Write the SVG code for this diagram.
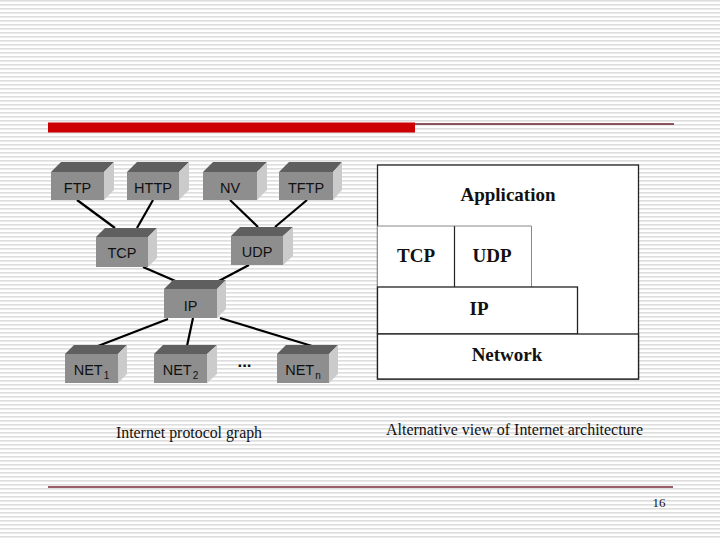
<svg xmlns="http://www.w3.org/2000/svg" width="720" height="540" viewBox="0 0 720 540">
<defs>
<pattern id="stripes" width="720" height="4" patternUnits="userSpaceOnUse">
<rect width="720" height="4" fill="#ffffff"/>
<rect y="0.2" width="720" height="1.3" fill="#d6d6d6"/>
</pattern>
<style>
.top{fill:#5f5f5f}
.front{fill:#8e8e8e}
.side{fill:#cbcbcb}
.lbl{font-family:"Liberation Sans",Arial,sans-serif;font-size:14.5px;fill:#111;text-anchor:middle}
.sub{font-size:10px}
.con line{stroke:#000;stroke-width:2.2}
.lay{font-family:"Liberation Serif","Times New Roman",serif;font-size:19px;font-weight:bold;fill:#111;text-anchor:middle}
.cap{font-family:"Liberation Serif","Times New Roman",serif;font-size:16px;fill:#111}
.frame{fill:#fff;stroke:#222;stroke-width:1.3}
</style>
</defs>
<rect width="720" height="540" fill="url(#stripes)"/>

<!-- title bar -->
<rect x="48" y="122.5" width="367" height="10" fill="#cc0000"/>
<line x1="415" y1="124" x2="674" y2="124" stroke="#6b1f2c" stroke-width="1.5"/>

<!-- connectors -->
<g id="connectors" class="con">
<line x1="77" y1="200" x2="115" y2="228"/>
<line x1="153" y1="200" x2="137" y2="228"/>
<line x1="230" y1="200" x2="258" y2="227"/>
<line x1="307" y1="200" x2="275" y2="227"/>
<line x1="143" y1="267" x2="180" y2="283"/>
<line x1="249" y1="265" x2="215" y2="283"/>
<line x1="168" y1="319" x2="98" y2="346"/>
<line x1="193" y1="318" x2="187" y2="346"/>
<line x1="220" y1="318" x2="312" y2="346"/>
</g>

<!-- left graph nodes -->
<g id="ftp">
<polygon class="top" points="51,172 61,162 114,162 104,172"/>
<polygon class="side" points="104,172 114,162 114,190 104,200"/>
<rect class="front" x="51" y="172" width="53" height="28"/>
<text class="lbl" x="77.5" y="193">FTP</text>
</g>
<g id="http">
<polygon class="top" points="127,172 137,162 189,162 179,172"/>
<polygon class="side" points="179,172 189,162 189,190 179,200"/>
<rect class="front" x="127" y="172" width="52" height="28"/>
<text class="lbl" x="153" y="193">HTTP</text>
</g>
<g id="nv">
<polygon class="top" points="203,172 213,162 267,162 257,172"/>
<polygon class="side" points="257,172 267,162 267,190 257,200"/>
<rect class="front" x="203" y="172" width="54" height="28"/>
<text class="lbl" x="230" y="193">NV</text>
</g>
<g id="tftp">
<polygon class="top" points="279,172 289,162 342,162 333,172"/>
<polygon class="side" points="333,172 342,162 342,190 333,200"/>
<rect class="front" x="279" y="172" width="54" height="28"/>
<text class="lbl" x="306" y="193">TFTP</text>
</g>
<g id="tcp">
<polygon class="top" points="96,237 105,228 157,228 148,237"/>
<polygon class="side" points="148,237 157,228 157,258 148,267"/>
<rect class="front" x="96" y="237" width="52" height="30"/>
<text class="lbl" x="122" y="258">TCP</text>
</g>
<g id="udp">
<polygon class="top" points="231,236 240,227 293,227 283,236"/>
<polygon class="side" points="283,236 293,227 293,256 283,265"/>
<rect class="front" x="231" y="236" width="52" height="29"/>
<text class="lbl" x="257" y="257">UDP</text>
</g>
<g id="ip">
<polygon class="top" points="164,289 173,280 226,280 217,289"/>
<polygon class="side" points="217,289 226,280 226,309 217,318"/>
<rect class="front" x="164" y="289" width="53" height="29"/>
<text class="lbl" x="190.5" y="311">IP</text>
</g>
<g id="net1">
<polygon class="top" points="65,354 74,345 127,345 118,354"/>
<polygon class="side" points="118,354 127,345 127,374 118,383"/>
<rect class="front" x="65" y="354" width="53" height="29"/>
<text class="lbl" x="91.5" y="375">NET<tspan class="sub" dx="1" dy="4">1</tspan></text>
</g>
<g id="net2">
<polygon class="top" points="154,354 163,345 217,345 207,354"/>
<polygon class="side" points="207,354 217,345 217,374 207,383"/>
<rect class="front" x="154" y="354" width="53" height="29"/>
<text class="lbl" x="180.5" y="375">NET<tspan class="sub" dx="1" dy="4">2</tspan></text>
</g>
<g id="dots">
<text class="lbl" x="244.5" y="367" style="font-weight:bold;font-size:17px">...</text>
</g>
<g id="netn">
<polygon class="top" points="277,354 286,345 338,345 329,354"/>
<polygon class="side" points="329,354 338,345 338,374 329,383"/>
<rect class="front" x="277" y="354" width="52" height="29"/>
<text class="lbl" x="303" y="375">NET<tspan class="sub" dx="1" dy="4">n</tspan></text>
</g>

<!-- right layered view -->
<g id="application">
<rect class="frame" x="377.5" y="165" width="261" height="214"/>
<text class="lay" x="508" y="201">Application</text>
</g>
<g id="layer-tcp">
<rect x="377.5" y="226" width="77" height="61" fill="#fff"/>
<line x1="377.5" y1="226" x2="454.5" y2="226" stroke="#888" stroke-width="1"/>
<line x1="454.5" y1="226" x2="454.5" y2="287" stroke="#222" stroke-width="1.2"/>
<text class="lay" x="416" y="262">TCP</text>
</g>
<g id="layer-udp">
<line x1="454.5" y1="226" x2="531.5" y2="226" stroke="#888" stroke-width="1"/>
<line x1="531.5" y1="226" x2="531.5" y2="287" stroke="#888" stroke-width="1"/>
<text class="lay" x="492" y="262">UDP</text>
</g>
<g id="layer-ip">
<rect x="377.5" y="287" width="200" height="47" fill="#fff" stroke="#222" stroke-width="1.3"/>
<text class="lay" x="479" y="315">IP</text>
</g>
<g id="layer-network">
<rect x="377.5" y="334" width="261" height="45" fill="#fff" stroke="#222" stroke-width="1.3"/>
<text class="lay" x="507" y="361">Network</text>
</g>

<!-- captions -->
<text class="cap" x="116" y="438" textLength="146" lengthAdjust="spacingAndGlyphs">Internet protocol graph</text>
<text class="cap" x="386" y="435" textLength="257" lengthAdjust="spacingAndGlyphs">Alternative view of Internet architecture</text>

<!-- footer -->
<line x1="48" y1="487" x2="673" y2="487" stroke="#7a2a35" stroke-width="1.5"/>
<text x="659" y="507" style="font-family:'Liberation Serif','Times New Roman',serif;font-size:13px;fill:#111;text-anchor:middle">16</text>
</svg>
